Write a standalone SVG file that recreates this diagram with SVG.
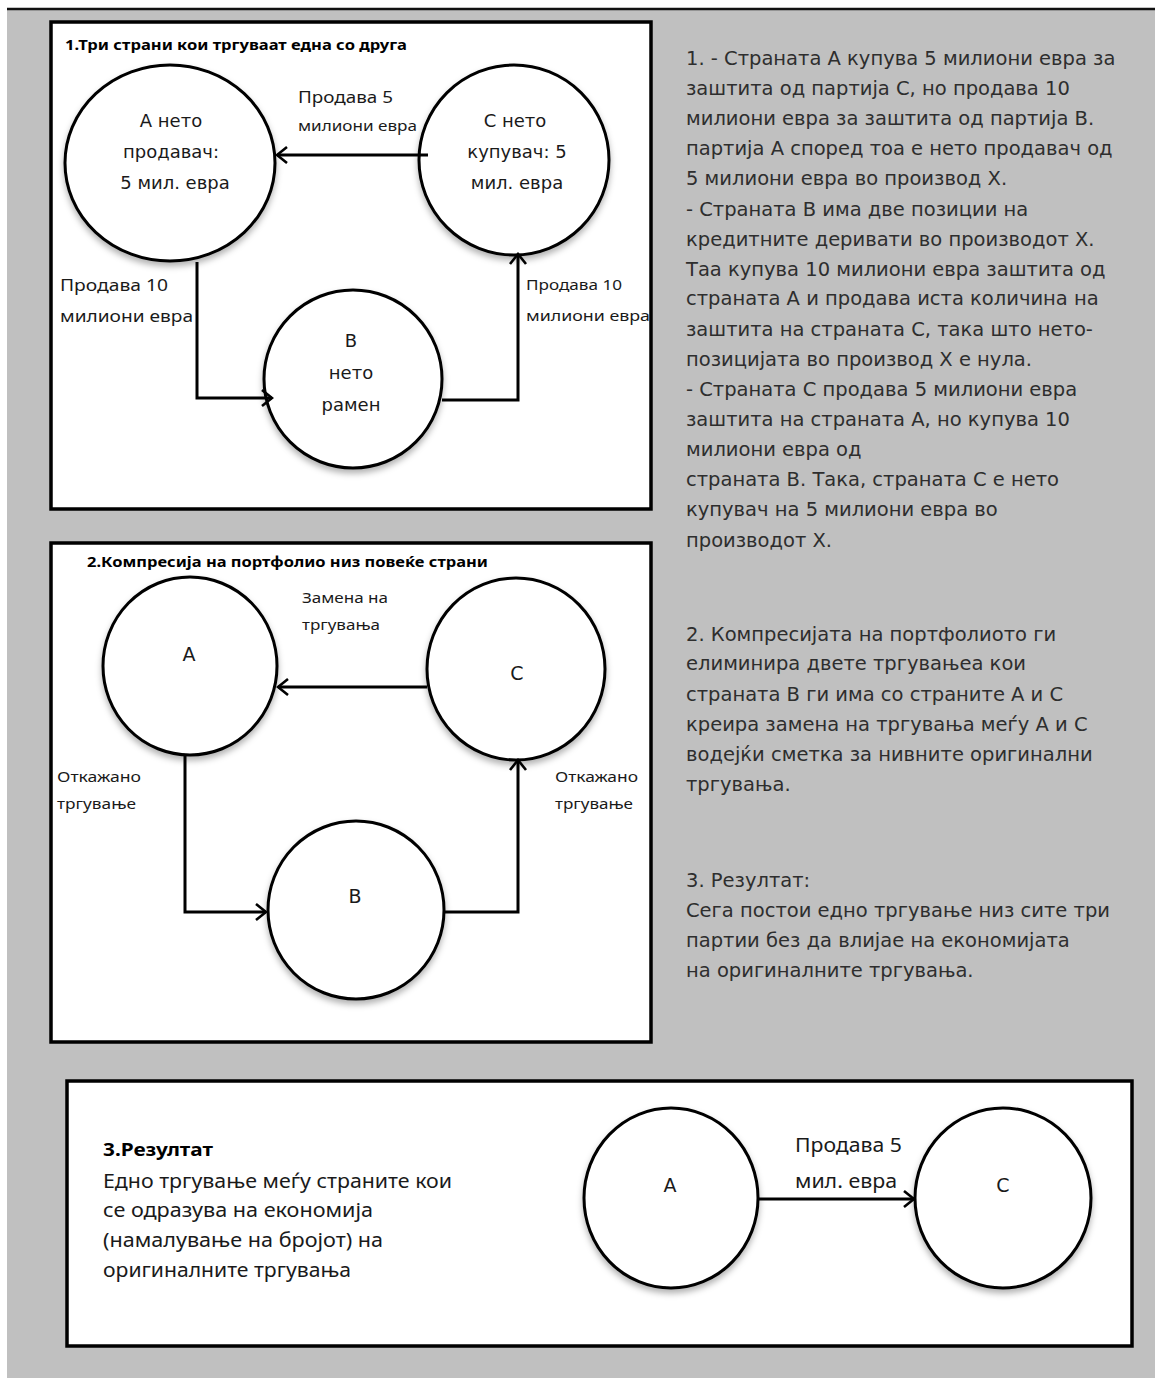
<svg xmlns="http://www.w3.org/2000/svg" width="1155" height="1378" viewBox="0 0 1155 1378">
  <style>
    .panel { fill: #ffffff; stroke: #000000; stroke-width: 3.5; }
    .node { fill: #ffffff; stroke: #000000; stroke-width: 3; filter: url(#shade); }
    .link { fill: none; stroke: #000000; stroke-width: 3; marker-end: url(#chevron); }
    text { font-family: "Noto Sans", "Open Sans", "DejaVu Sans", sans-serif; fill: #1a1a1a; }
    .title { font-weight: bold; font-size: 15px; fill: #000000; }
    .nodetext { font-family: "DejaVu Sans", "Noto Sans", sans-serif; font-size: 18px; text-anchor: middle; }
    .letter { font-family: "DejaVu Sans", "Noto Sans", sans-serif; font-size: 19px; text-anchor: middle; }
    .lbl { font-size: 16px; }
    .lbl-s { font-size: 14px; }
    .note { font-family: "DejaVu Sans", "Noto Sans", sans-serif; font-size: 19.5px; fill: #2e2e2e; }
    .result { font-size: 20px; fill: #1a1a1a; }
  </style>
  <defs>
    <marker id="chevron" markerUnits="userSpaceOnUse" markerWidth="14" markerHeight="20" refX="12" refY="9" orient="auto">
      <path d="M2,1 L12,9 L2,17" fill="none" stroke="#000000" stroke-width="2.6"/>
    </marker>
    <filter id="shade" x="-20%" y="-20%" width="140%" height="150%">
      <feDropShadow dx="0" dy="4" stdDeviation="3" flood-color="#000000" flood-opacity="0.3"/>
    </filter>
  </defs>

  <!-- page background -->
  <rect x="0" y="0" width="1155" height="1378" fill="#ffffff"/>
  <rect x="7" y="9" width="1148" height="1369" fill="#c0c0c0"/>
  <line x1="7" y1="9" x2="1155" y2="9" stroke="#111111" stroke-width="2.5"/>

  <!-- panel 1: three parties trading with each other -->
  <g id="panel1">
    <rect class="panel" x="51" y="22" width="600" height="487"/>
    <text class="title" x="65" y="50" textLength="342" lengthAdjust="spacingAndGlyphs">1.Три страни кои тргуваат една со друга</text>
  </g>

  <g id="node-a1">
    <ellipse class="node" cx="170" cy="163" rx="105" ry="98"/>
    <text class="nodetext" x="171" y="127">А нето</text>
    <text class="nodetext" x="171" y="158">продавач:</text>
    <text class="nodetext" x="175" y="189">5 мил. евра</text>
  </g>
  <g id="node-c1">
    <ellipse class="node" cx="514" cy="160" rx="95" ry="95"/>
    <text class="nodetext" x="515" y="127">С нето</text>
    <text class="nodetext" x="517" y="158">купувач: 5</text>
    <text class="nodetext" x="517" y="189">мил. евра</text>
  </g>
  <g id="node-b1">
    <ellipse class="node" cx="353" cy="379" rx="89" ry="89"/>
    <text class="nodetext" x="351" y="347">В</text>
    <text class="nodetext" x="351" y="379">нето</text>
    <text class="nodetext" x="351" y="411">рамен</text>
  </g>

  <!-- panel 2: portfolio compression -->
  <g id="panel2">
    <rect class="panel" x="51" y="543" width="600" height="499"/>
    <text class="title" x="87" y="567" textLength="401" lengthAdjust="spacingAndGlyphs">2.Компресија на портфолио низ повеќе страни</text>
  </g>

  <g id="node-a2">
    <ellipse class="node" cx="190" cy="666" rx="87" ry="89"/>
    <text class="letter" x="189" y="661">А</text>
  </g>
  <g id="node-c2">
    <ellipse class="node" cx="516" cy="669" rx="89" ry="91"/>
    <text class="letter" x="517" y="680">С</text>
  </g>
  <g id="node-b2">
    <ellipse class="node" cx="356" cy="910" rx="88" ry="89"/>
    <text class="letter" x="355" y="903">В</text>
  </g>

  <!-- panel 3: result -->
  <g id="panel3">
    <rect class="panel" x="67" y="1081" width="1065" height="265"/>
    <text class="title" x="103" y="1156" style="font-size:18px" textLength="110" lengthAdjust="spacingAndGlyphs">3.Резултат</text>
    <text class="result" x="103" y="1188" textLength="349" lengthAdjust="spacingAndGlyphs">Едно тргување меѓу страните кои</text>
    <text class="result" x="103" y="1217" textLength="270" lengthAdjust="spacingAndGlyphs">се одразува на економија</text>
    <text class="result" x="103" y="1247" textLength="280" lengthAdjust="spacingAndGlyphs">(намалување на бројот) на</text>
    <text class="result" x="103" y="1277" textLength="248" lengthAdjust="spacingAndGlyphs">оригиналните тргувања</text>
  </g>

  <g id="node-a3">
    <ellipse class="node" cx="671" cy="1198" rx="87" ry="90"/>
    <text class="letter" x="670" y="1192">А</text>
  </g>
  <g id="node-c3">
    <ellipse class="node" cx="1003" cy="1198" rx="88" ry="90"/>
    <text class="letter" x="1003" y="1192">С</text>
  </g>

  <!-- connectors and their labels -->
  <g id="connectors">
    <!-- panel 1 -->
    <line class="link" x1="428" y1="155" x2="277" y2="155"/>
    <polyline class="link" points="197,262 197,398 272,398"/>
    <polyline class="link" points="442,400 518,400 518,254"/>
    <!-- panel 2 -->
    <line class="link" x1="427" y1="687" x2="278" y2="687"/>
    <polyline class="link" points="185,755 185,912 266,912"/>
    <polyline class="link" points="444,912 518,912 518,760"/>
    <!-- panel 3 -->
    <line class="link" x1="758" y1="1199" x2="914" y2="1199"/>

    <text class="lbl" x="298" y="103" textLength="95" lengthAdjust="spacingAndGlyphs">Продава 5</text>
    <text class="lbl" x="298" y="131" style="font-size:15px" textLength="119" lengthAdjust="spacingAndGlyphs">милиони евра</text>
    <text class="lbl" x="60" y="291" style="font-size:17px" textLength="108" lengthAdjust="spacingAndGlyphs">Продава 10</text>
    <text class="lbl" x="60" y="322" style="font-size:17px" textLength="133" lengthAdjust="spacingAndGlyphs">милиони евра</text>
    <text class="lbl" x="526" y="290" style="font-size:15px" textLength="96" lengthAdjust="spacingAndGlyphs">Продава 10</text>
    <text class="lbl" x="526" y="321" style="font-size:15px" textLength="124" lengthAdjust="spacingAndGlyphs">милиони евра</text>

    <text class="lbl" x="302" y="603" style="font-size:15px" textLength="86" lengthAdjust="spacingAndGlyphs">Замена на</text>
    <text class="lbl" x="302" y="630" style="font-size:15px" textLength="78" lengthAdjust="spacingAndGlyphs">тргувања</text>
    <text class="lbl" x="57" y="782" style="font-size:15px" textLength="84" lengthAdjust="spacingAndGlyphs">Откажано</text>
    <text class="lbl" x="57" y="809" style="font-size:15px" textLength="79" lengthAdjust="spacingAndGlyphs">тргување</text>
    <text class="lbl" x="555" y="782" style="font-size:15px" textLength="83" lengthAdjust="spacingAndGlyphs">Откажано</text>
    <text class="lbl" x="555" y="809" style="font-size:15px" textLength="78" lengthAdjust="spacingAndGlyphs">тргување</text>

    <text class="result" x="795" y="1152" textLength="107" lengthAdjust="spacingAndGlyphs">Продава 5</text>
    <text class="result" x="795" y="1188" textLength="102" lengthAdjust="spacingAndGlyphs">мил. евра</text>
  </g>

  <!-- explanatory notes -->
  <g id="notes">
    <text class="note" x="686" y="65">1. - Страната А купува 5 милиони евра за</text>
    <text class="note" x="686" y="95">заштита од партија С, но  продава 10</text>
    <text class="note" x="686" y="125">милиони евра за заштита од партија В.</text>
    <text class="note" x="686" y="155">партија А според тоа е нето продавач од</text>
    <text class="note" x="686" y="185">5 милиони евра во производ Х.</text>
    <text class="note" x="686" y="216">- Страната В има две позиции на</text>
    <text class="note" x="686" y="246">кредитните деривати во производот Х.</text>
    <text class="note" x="686" y="276">Таа купува 10 милиони евра заштита од</text>
    <text class="note" x="686" y="305">страната А и продава иста количина на</text>
    <text class="note" x="686" y="336">заштита на страната С, така што нето-</text>
    <text class="note" x="686" y="366">позицијата во производ Х е нула.</text>
    <text class="note" x="686" y="396">- Страната С продава 5 милиони евра</text>
    <text class="note" x="686" y="426">заштита на страната А, но купува  10</text>
    <text class="note" x="686" y="456">милиони евра од</text>
    <text class="note" x="686" y="486">страната В. Така, страната С е нето</text>
    <text class="note" x="686" y="516">купувач на 5 милиони евра во</text>
    <text class="note" x="686" y="547">производот Х.</text>

    <text class="note" x="686" y="641">2. Компресијата на портфолиото ги</text>
    <text class="note" x="686" y="670">елиминира двете тргувањеа кои</text>
    <text class="note" x="686" y="701">страната В ги има со страните А и С</text>
    <text class="note" x="686" y="731">креира замена на тргувања меѓу А и С</text>
    <text class="note" x="686" y="761">водејќи сметка за нивните оригинални</text>
    <text class="note" x="686" y="791">тргувања.</text>

    <text class="note" x="686" y="887">3. Резултат:</text>
    <text class="note" x="686" y="917">Сега постои едно тргување низ сите три</text>
    <text class="note" x="686" y="947">партии без да влијае на економијата</text>
    <text class="note" x="686" y="977">на оригиналните тргувања.</text>
  </g>
</svg>
